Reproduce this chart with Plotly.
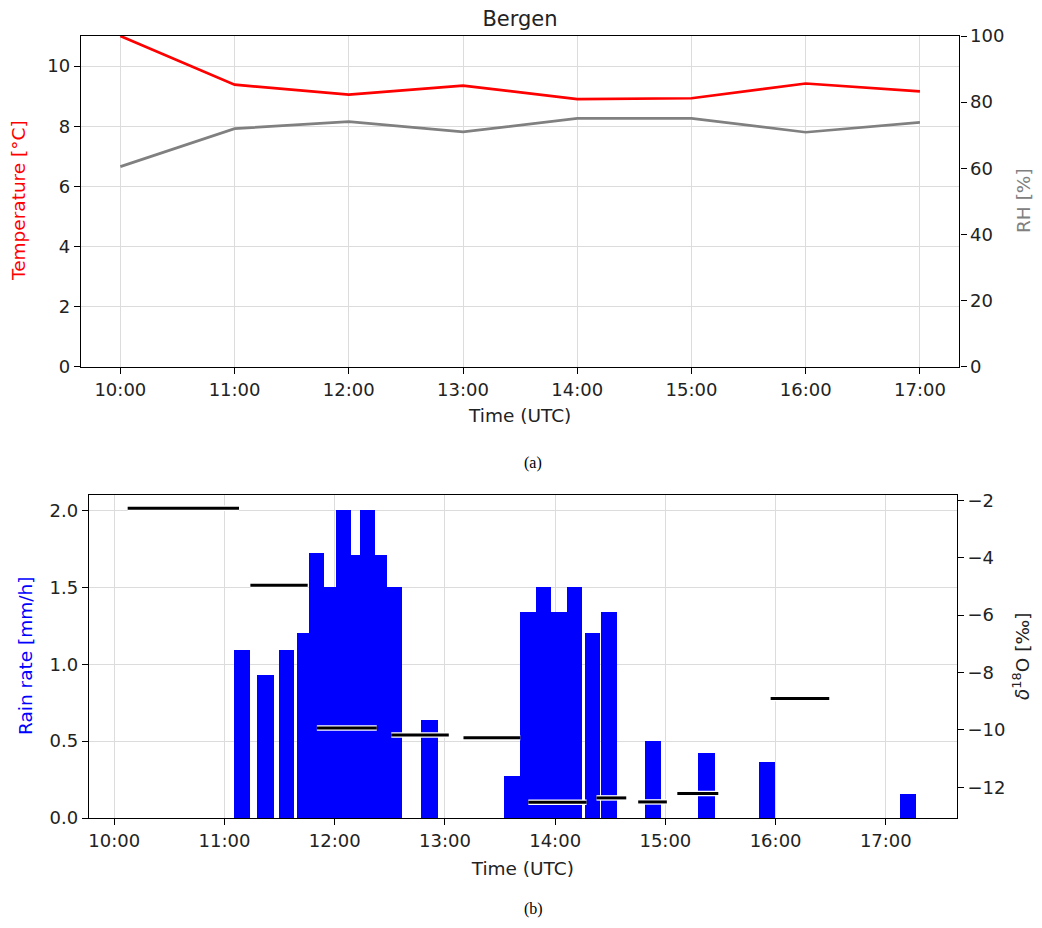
import pandas as pd
import plotly.graph_objects as go

DAY = "2019-01-01 "

# ---- Panel (a): hourly meteorology ----
hours = ["10:00", "11:00", "12:00", "13:00", "14:00", "15:00", "16:00", "17:00"]
temperature = [11.0, 9.38, 9.05, 9.35, 8.90, 8.93, 9.42, 9.16]
rel_humidity = [60.5, 72.0, 74.1, 71.0, 75.1, 75.1, 70.9, 73.9]

# ---- Panel (b): rain rate (interval start, interval end, value) ----
rain_start = ["11:05:06", "11:17:54", "11:29:30", "11:39:18", "11:46:00", "11:54:24",
              "12:00:30", "12:09:00", "12:13:30", "12:21:42", "12:28:36", "12:47:06",
              "13:32:00", "13:41:00", "13:49:36", "13:57:42", "14:06:12", "14:16:12",
              "14:25:12", "14:48:48", "15:17:48", "15:51:06", "17:07:54"]
rain_end = ["11:14:06", "11:27:00", "11:37:42", "11:46:00", "11:54:24", "12:00:30",
            "12:09:00", "12:13:30", "12:21:42", "12:28:36", "12:36:54", "12:56:06",
            "13:41:00", "13:49:36", "13:57:42", "14:06:12", "14:14:24", "14:24:24",
            "14:33:24", "14:57:48", "15:26:54", "15:59:30", "17:16:18"]
rain_rate = [1.09, 0.93, 1.09, 1.20, 1.72, 1.50,
             2.00, 1.71, 2.00, 1.71, 1.50, 0.64,
             0.275, 1.34, 1.50, 1.34, 1.50, 1.20,
             1.34, 0.50, 0.42, 0.366, 0.156]

# ---- Panel (b): d18O sample intervals ----
d18o_start = ["10:07:18", "11:14:06", "11:50:18", "12:30:48", "13:10:06",
              "13:45:24", "14:22:30", "14:45:12", "15:06:30", "15:57:18"]
d18o_end = ["11:07:54", "11:45:18", "12:22:54", "13:02:06", "13:41:00",
            "14:17:06", "14:38:42", "15:00:48", "15:28:48", "16:29:12"]
d18o = [-2.28, -4.96, -9.93, -10.18, -10.27, -12.52, -12.37, -12.51, -12.22, -8.91]

FONT = "DejaVu Sans"
TICK = 18
TITLE = 18.5
GRID = "#dcdcdc"
TXT = "#222"

# page body has an 8 px margin; the figure is sized to fit the 1042x928 window
OFF = 8
W, H = 1042 - 2 * OFF, 928 - 2 * OFF


def px(x):
    return (x - OFF) / W


def py(y):
    return 1 - (y - OFF) / H


def ts(s):
    return pd.Timestamp(DAY + s)


fig = go.Figure()

# Panel (a)
t_hours = [ts(h) for h in hours]
fig.add_trace(go.Scatter(x=t_hours, y=temperature, mode="lines",
                         line=dict(color="red", width=2.7),
                         xaxis="x", yaxis="y", showlegend=False, name="Temperature"))
fig.add_trace(go.Scatter(x=t_hours, y=rel_humidity, mode="lines",
                         line=dict(color="gray", width=2.7),
                         xaxis="x", yaxis="y2", showlegend=False, name="RH"))

# Panel (b) bars
rs = [ts(s) for s in rain_start]
re_ = [ts(s) for s in rain_end]
centers = [a + (b - a) / 2 for a, b in zip(rs, re_)]
widths = [(b - a).total_seconds() * 1000 for a, b in zip(rs, re_)]
fig.add_trace(go.Bar(x=centers, y=rain_rate, width=widths,
                     marker=dict(color="#0000ff", line=dict(width=0)),
                     xaxis="x2", yaxis="y3", showlegend=False, name="Rain rate"))

# Panel (b) d18O segments
sx, sy = [], []
for a, b, v in zip(d18o_start, d18o_end, d18o):
    sx += [ts(a), ts(b), None]
    sy += [v, v, None]
fig.add_trace(go.Scatter(x=sx, y=sy, mode="lines", line=dict(color="white", width=5.5),
                         xaxis="x2", yaxis="y4", showlegend=False, hoverinfo="skip"))
fig.add_trace(go.Scatter(x=sx, y=sy, mode="lines", line=dict(color="black", width=3),
                         xaxis="x2", yaxis="y4", showlegend=False, name="δ18O"))

common_x = dict(type="date", tickformat="%H:%M", showline=True, linecolor="black",
                linewidth=1.4, mirror=True, ticks="outside", ticklen=6, tickcolor="black",
                showgrid=True, gridcolor=GRID, gridwidth=1, zeroline=False,
                tickfont=dict(family=FONT, size=TICK, color=TXT),
                dtick=3600000, automargin=False)
common_y = dict(showline=True, linecolor="black", linewidth=1.4, ticks="outside",
                ticklen=6, tickcolor="black", zeroline=False, automargin=False,
                tickfont=dict(family=FONT, size=TICK, color=TXT))


def ytitle(text, x, y, color):
    return dict(text=text, x=px(x), y=py(y), xref="paper", yref="paper",
                xanchor="center", yanchor="middle", textangle=-90, showarrow=False,
                font=dict(family=FONT, size=TITLE, color=color))


fig.update_layout(
    width=W, height=H,
    margin=dict(l=0, r=0, t=0, b=0),
    paper_bgcolor="white", plot_bgcolor="white",
    font=dict(family=FONT, size=TICK, color=TXT),
    bargap=0,
    xaxis=dict(common_x, domain=[px(81), px(959.3)], anchor="y",
               range=[ts("09:39:20"), ts("17:20:40")],
               title=dict(text="Time (UTC)", font=dict(size=TITLE), standoff=10)),
    yaxis=dict(common_y, domain=[py(366.7), py(36)], anchor="x",
               range=[0, 11], dtick=2, showgrid=True, gridcolor=GRID),
    yaxis2=dict(common_y, overlaying="y", side="right", anchor="x",
                range=[0, 100], dtick=20, showgrid=False),
    xaxis2=dict(common_x, domain=[px(89), px(956.7)], anchor="y3",
                range=[ts("09:46:15"), ts("17:38:35")],
                title=dict(text="Time (UTC)", font=dict(size=TITLE), standoff=12)),
    yaxis3=dict(common_y, domain=[py(818), py(495)], anchor="x2",
                range=[0, 2.1], dtick=0.5, tickformat=".1f", showgrid=True, gridcolor=GRID),
    yaxis4=dict(common_y, overlaying="y3", side="right", anchor="x2",
                range=[-13.07, -1.815], dtick=2, showgrid=False),
    title=dict(text="Bergen", x=px(520), xanchor="center", y=py(18.5), yanchor="middle",
               font=dict(family=FONT, size=21, color=TXT)),
    annotations=[
        ytitle("Temperature [°C]", 18, 201, "red"),
        ytitle("RH [%]", 1023, 201, "gray"),
        ytitle("Rain rate [mm/h]", 25, 656, "blue"),
        ytitle("<i>δ</i><sup>18</sup>O [‰]", 1021, 656, TXT),
        dict(text="(a)", x=px(533), y=py(463), xref="paper", yref="paper",
             showarrow=False, font=dict(family="Liberation Serif", size=16, color="black")),
        dict(text="(b)", x=px(533), y=0, xref="paper", yref="paper",
             xanchor="center", yanchor="bottom",
             showarrow=False, font=dict(family="Liberation Serif", size=16, color="black")),
    ],
)

fig.write_html("out.html")
